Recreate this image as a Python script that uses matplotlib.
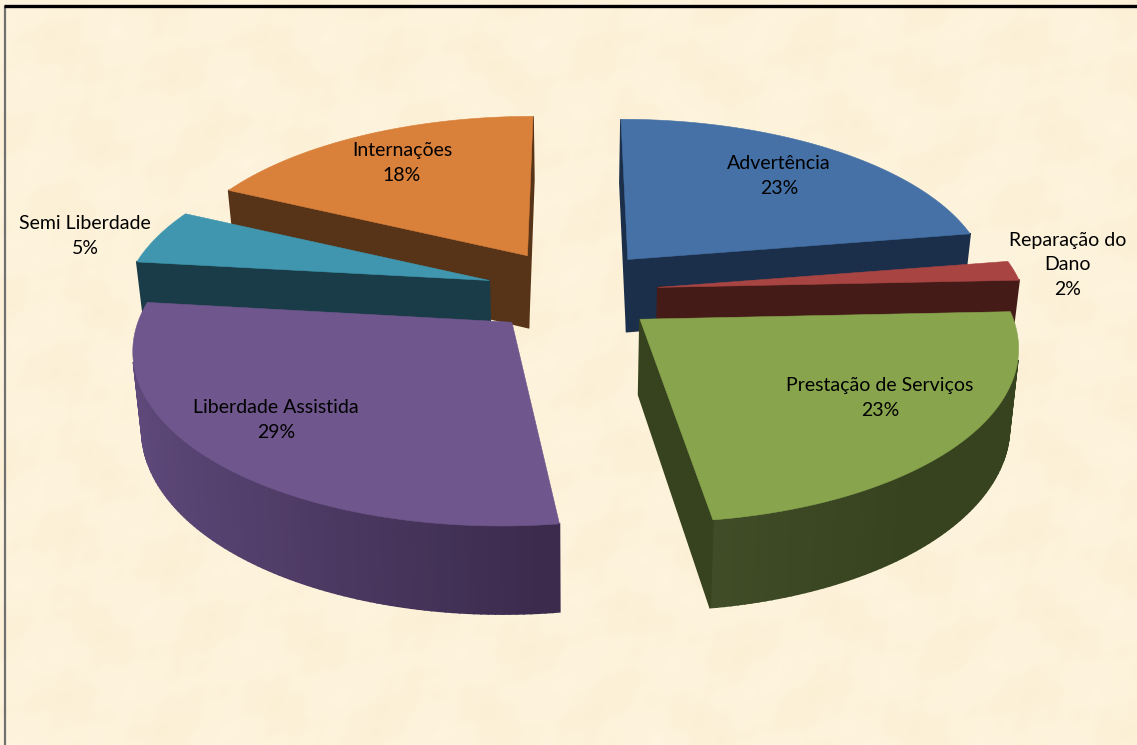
import numpy as np
import matplotlib
matplotlib.use("Agg")
import matplotlib.pyplot as plt
from matplotlib.colors import to_rgb
from matplotlib.patches import Polygon

labels = ["Advertência", "Reparação do\nDano", "Prestação de Serviços",
          "Liberdade Assistida", "Semi Liberdade", "Internações"]
values = [23, 2, 23, 29, 5, 18]
top_colors = ["#4571a6", "#a84543", "#88a54e", "#6f568c", "#3f96ae", "#d9803a"]
side_colors = ["#1b2f4a", "#451b18", "#37421e", "#3c2b4d", "#1a3b48", "#573318"]
arc_light = ["#2a4a72", "#6e2c2a", "#43502a", "#5f4a7c", "#2f6a7d", "#8a5226"]
label_pos = [(779, 176), (1068, 265), (880, 398), (276, 420), (85, 236), (402, 163)]

# the excel 3d view bends the edges a little, degrees added to start / end of each slice
angle_adjust = [(0, -2.3), (-2.0, -2.5), (-2.5, -1.0), (-0.5, -0.6), (-0.6, 0.3), (0.8, 0)]
# pixel nudge of each slice
nudge = [(-6, 0), (-8, 0), (-5, 1), (3, 2), (1, 2), (0, 0)]

# pie geometry in pixels
CX, CY = 575, 290
A, B = 365, 167
K = 0.136       # perspective
EXPLODE = 0.25
DEPTH = 74
TAPER = 0.02    # bottom face is a bit narrower than the top


def project(x, y, z=0):
    w = 1 + K * y
    return CX + A * x / w * (1 - TAPER * z), CY - B * y / w + DEPTH * z / w


fig = plt.figure(figsize=(11.37, 7.45), dpi=100)
ax = fig.add_axes([0, 0, 1, 1])

# parchment background
yy, xx = np.mgrid[0:745:3, 0:1137:3]
tex = (np.sin(xx / 17 + 1.3 * np.sin(yy / 27)) + np.sin(yy / 13 + 1.7 * np.sin(xx / 31))
       + 0.7 * np.sin((xx + yy) / 7) * np.sin((xx - yy) / 11))
base = np.array(to_rgb("#fdf2da"))
img = np.clip(base[None, None, :] + tex[..., None] * np.array([0.002, 0.004, 0.008]), 0, 1)
ax.imshow(img, extent=[0, 1137, 745, 0], aspect="auto", interpolation="bicubic", zorder=0)
ax.set_xlim(0, 1137)
ax.set_ylim(745, 0)
ax.axis("off")

ax.plot([5, 5], [7, 745], color="#707070", lw=1.6, zorder=1)
ax.plot([4, 1137], [6, 6], color="black", lw=2.4, zorder=1, solid_capstyle="butt")


def shoelace(pts):
    x, y = np.array(pts).T
    return 0.5 * np.sum(x * np.roll(y, -1) - np.roll(x, -1) * y)


edges = np.cumsum([0] + values) / sum(values) * 2 * np.pi
draw_order = [5, 4, 0, 1, 3, 2]
z = 2
for i in draw_order:
    a0 = edges[i] + np.radians(angle_adjust[i][0])
    a1 = edges[i + 1] + np.radians(angle_adjust[i][1])
    mid = (edges[i] + edges[i + 1]) / 2
    ox, oy = EXPLODE * np.sin(mid), EXPLODE * np.cos(mid)
    ang = np.linspace(a0, a1, max(8, int((a1 - a0) * 60)))
    loop = [(ox, oy)] + [(ox + np.sin(t), oy + np.cos(t)) for t in ang]
    nx, ny = nudge[i]
    n = len(loop)

    def pt(p, zz=0):
        px, py = project(p[0], p[1], zz)
        return px + nx, py + ny

    for j in range(n):
        p, q = loop[j], loop[(j + 1) % n]
        quad = [pt(p), pt(q), pt(q, 1), pt(p, 1)]
        if shoelace(quad) >= 0:  # faces away from the viewer
            continue
        if j == 0 or j == n - 1:
            col = side_colors[i]
        else:
            # outer rim is lighter towards the left and the front
            t = np.sin(ang[j - 1])
            f = np.clip((0.1 - t) / 1.1, 0, 1) if i == 3 else np.clip(1 - t * 1.6, 0, 1)
            col = np.array(to_rgb(side_colors[i])) * (1 - f) + np.array(to_rgb(arc_light[i])) * f
        ax.add_patch(Polygon(quad, closed=True, fc=col, ec=col, lw=1.2, zorder=z))
    top = [pt(p) for p in loop]
    ax.add_patch(Polygon(top, closed=True, fc=top_colors[i], ec=top_colors[i], lw=0.4, zorder=z + 1))
    z += 2

for name, val, (x, y) in zip(labels, values, label_pos):
    ax.text(x, y, f"{name}\n{val}%", ha="center", va="center", fontsize=14,
            family="Lato", color="black", linespacing=1.55, zorder=50)

fig.savefig("out.png", dpi=100)
